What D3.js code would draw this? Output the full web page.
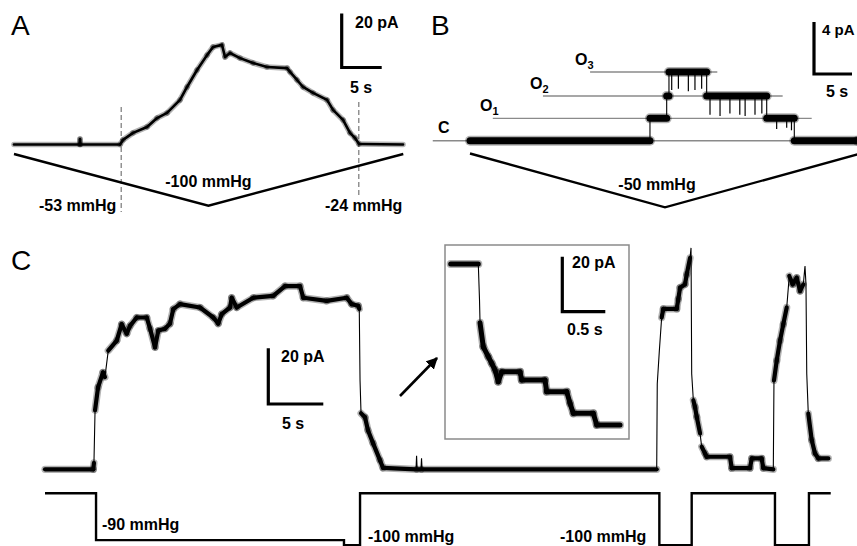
<!DOCTYPE html>
<html>
<head>
<meta charset="utf-8">
<script src="https://cdn.jsdelivr.net/npm/d3@7"></script>
<style>
  body { margin: 0; background: #fff; }
  text { font-family: "Liberation Sans", Arial, sans-serif; }
</style>
</head>
<body>
<svg id="figure" width="857" height="546"></svg>
<script>
////////////////////////////////////////////////////////////////////////////////
//////////////////////////////////////////////////////////////////////// Data
////////////////////////////////////////////////////////////////////////////////

// Panel A: current (pA) vs time (s), pressure ramp (mmHg)
const traceATime    = [0, 8.2, 8.25, 8.3, 13.25, 13.63, 14.88, 16.63, 17.88, 19.13, 20.75, 21.63, 22.88, 24.13, 24.88, 26.0, 26.38, 27.0, 28.25, 29.88, 31.63, 34.13, 34.5, 35.38, 36.13, 37.38, 39.13, 39.88, 41.13, 42.0, 42.63, 43.13, 48.63];
const traceACurrent = [0, 0, 2.0, 0, 0, 1.7, 4.3, 6.5, 9.8, 11.7, 16.5, 21.3, 27.6, 33.1, 36.1, 36.9, 32.4, 33.9, 32.0, 30.2, 28.7, 28.3, 26.9, 23.9, 21.3, 19.1, 16.5, 12.8, 9.1, 4.3, 2.4, 0.2, 0];
const rampATime     = [0, 24.3, 48.66];
const rampAPressure = [0, -100, 0];
const thresholdsATime  = [13.4, 43.1];
const thresholdsALabel = ["-53 mmHg", "-24 mmHg"];

// Panel B: single channel steps, closed (C) and open levels O1..O3
const levelNames  = ["C", "O", "O", "O"];
const levelSubs   = ["", "1", "2", "3"];
const levelValues = [0, 1.72, 3.44, 5.28];
const levelLineStart = [-4.9, 3.0, 9.6, 15.8];
const levelLineEnd   = [51, 44.96, 41.14, 32.54];
const stepBTime  = [0, 23.68, 25.88, 26.18, 31.14, 39.04, 42.67, 51];
const stepBLevel = [0, 1.72, 3.44, 5.28, 3.44, 1.72, 0, 0];
// brief partial closures inside the open dwells
const spikeBTime  = [26.54, 27.42, 28.73, 29.6, 30.48, 31.58, 32.9, 34.2, 35.5, 36.2, 37.5, 38.4, 40.35, 41.67, 42.3];
const spikeBDepth = [3.9, 4.0, 3.8, 3.9, 4.0, 2.0, 1.9, 2.1, 2.0, 1.9, 2.0, 2.1, 0.9, 1.0, 0.8];
const rampBTime     = [0, 25.66, 51.45];
const rampBPressure = [0, -50, 0];

// Panel C: main trace
const traceCTime    = [0, 4.39, 4.45, 4.55, 4.82, 5.27, 5.45, 5.75, 6.52, 6.97, 7.43, 7.73, 8.34, 9.25, 9.55, 10.0, 10.3, 10.91, 11.36, 11.66, 12.27, 14.09, 15.3, 15.75, 16.06, 16.82, 16.97, 17.43, 18.94, 20.75, 21.82, 23.18, 23.48, 25.61, 27.43, 27.88, 28.48, 28.57, 28.64, 28.73, 29.09, 29.36, 29.82, 30.45, 30.73, 33.73, 33.78, 33.83, 34.18, 34.23, 34.28, 55.61, 55.66, 55.85, 56.06, 56.21, 57.43, 57.57, 57.73, 58.18, 58.34, 58.64, 58.73, 58.79, 58.94, 59.09, 59.25, 59.55, 59.7, 60.0, 60.15, 62.27, 62.43, 64.09, 64.25, 65.15, 65.3, 66.21, 66.27, 66.52, 66.82, 67.12, 67.43, 67.66, 67.97, 68.34, 68.64, 68.94, 69.09, 69.18, 69.25, 69.39, 69.7, 70.0, 70.3, 71.21];
const traceCCurrent = [0, 0, 2.3, 21.2, 29.4, 34.8, 33.1, 42.6, 46.2, 52.1, 48.7, 51.5, 54.5, 54.5, 50.5, 43.8, 49.8, 50.5, 52.3, 57.5, 59.3, 58.1, 54.5, 52.3, 55.7, 58.1, 61.6, 58.1, 61.6, 62.3, 65.8, 65.8, 61.6, 60.5, 61.6, 59.3, 58.7, 57.6, 31.9, 20.1, 18.7, 14.0, 9.4, 3.3, 0.5, 0, 4.9, 0, 0, 4.0, 0, 0, 30.7, 42.6, 54.5, 57.6, 57.6, 61.1, 65.2, 66.4, 70.0, 75.9, 79.5, 34.3, 24.8, 22.4, 18.8, 12.9, 8.1, 5.7, 4.5, 4.5, 0.4, 0.4, 3.9, 3.9, 0.4, 0, 31.9, 39.0, 46.2, 52.1, 58.1, 69.4, 66.4, 68.8, 64.0, 66.4, 73.0, 66.4, 34.3, 20.0, 10.5, 5.7, 3.9, 3.9];
const stepCTime     = [0, 4.64, 27.18, 28.64, 55.85, 58.79, 66.36, 69.45, 71.43];
const stepCPressure = [0, -90, -100, 0, -100, 0, -100, 0, 0];
const stepCLabels   = [["-90 mmHg", 102, 530], ["-100 mmHg", 368, 542], ["-100 mmHg", 560, 542]];

// Panel C inset: expanded view of the current decay
const insetTime    = [0, 0.321, 0.335, 0.341, 0.379, 0.437, 0.477, 0.515, 0.553, 0.593, 0.806, 0.826, 1.097, 1.116, 1.349, 1.387, 1.426, 1.658, 1.698, 1.969];
const insetCurrent = [58.9, 58.9, 45.8, 37.5, 28.8, 25.2, 22.8, 20.4, 16.1, 19.7, 19.7, 16.7, 16.7, 12.5, 12.5, 8.3, 4.6, 4.6, 0.4, 0.4];

////////////////////////////////////////////////////////////////////////////////
/////////////////////////////////////////////////////////////////////// Helpers
////////////////////////////////////////////////////////////////////////////////

const svg = d3.select("#figure");

// noisy trace: near-vertical transitions drawn thin, dwell parts as a band
function drawTrace(g, times, values, x, y, band) {
  const pts = times.map((t, i) => [x(t), y(values[i])]);
  g.append("path")
     .attr("d", d3.line()(pts))
     .attr("fill", "none")
     .attr("stroke", "#000")
     .attr("stroke-width", 1.1);
  const flat = d3.pairs(pts).filter(function(p) {
    const dx = Math.abs(p[1][0] - p[0][0]);
    const dy = Math.abs(p[1][1] - p[0][1]);
    return !(dy > 8 * dx && dy > 10);
  });
  // soft halo for the noise, then solid core
  [[band + 3, 0.3], [band, 1]].forEach(function(s) {
    g.selectAll(null)
     .data(flat)
     .join("line")
       .attr("x1", d => d[0][0]).attr("y1", d => d[0][1])
       .attr("x2", d => d[1][0]).attr("y2", d => d[1][1])
       .attr("stroke", "#000")
       .attr("stroke-opacity", s[1])
       .attr("stroke-width", s[0])
       .attr("stroke-linecap", "round");
  });
}

function stepPoints(times, values) {
  const t = [], v = [];
  times.forEach(function(d, i) {
    if (i > 0) { t.push(d); v.push(values[i - 1]); }
    t.push(d); v.push(values[i]);
  });
  return [t, v];
}

function scaleBar(g, x0, y0, w, h) {
  g.append("path")
     .attr("d", `M${x0},${y0 - h}V${y0}H${x0 + w}`)
     .attr("fill", "none")
     .attr("stroke", "#000")
     .attr("stroke-width", 3.2);
}

function label(g, x, y, txt, size, anchor, weight) {
  return g.append("text")
           .attr("x", x)
           .attr("y", y)
           .attr("text-anchor", anchor || "start")
           .style("font-size", size + "px")
           .style("font-weight", weight || "bold")
           .text(txt);
}

////////////////////////////////////////////////////////////////////////////////
/////////////////////////////////////////////////////////////////////// Panel A
////////////////////////////////////////////////////////////////////////////////

const gA = svg.append("g");
const xA = d3.scaleLinear().domain([0, 10]).range([14, 94]);
const yA = d3.scaleLinear().domain([0, 20]).range([144.5, 90.5]);
const pA = d3.scaleLinear().domain([0, -100]).range([154, 205.7]);

label(gA, 11, 35, "A", 28, "start", "normal");

thresholdsATime.forEach(function(t, i) {
  gA.append("line")
      .attr("x1", xA(t)).attr("x2", xA(t))
      .attr("y1", i == 0 ? 107 : 102)
      .attr("y2", i == 0 ? 212 : 197)
      .attr("stroke", "#777")
      .attr("stroke-width", 1.2)
      .attr("stroke-dasharray", "5,3");
});

drawTrace(gA, traceATime, traceACurrent, xA, yA, 2.6);

gA.append("path")
    .attr("d", d3.line().x((d, i) => xA(rampATime[i])).y(d => pA(d))(rampAPressure))
    .attr("fill", "none")
    .attr("stroke", "#000")
    .attr("stroke-width", 2.4);

label(gA, xA(rampATime[1]), 187, "-100 mmHg", 16, "middle");
label(gA, 39, 211, thresholdsALabel[0], 16);
label(gA, 325, 211, thresholdsALabel[1], 16);

scaleBar(gA, 341.7, 67.5, xA(5) - xA(0), yA(0) - yA(20));
label(gA, 355, 28, "20 pA", 16);
label(gA, 350, 93, "5 s", 16);

////////////////////////////////////////////////////////////////////////////////
/////////////////////////////////////////////////////////////////////// Panel B
////////////////////////////////////////////////////////////////////////////////

const gB = svg.append("g");
const xB = d3.scaleLinear().domain([0, 5]).range([470, 508]);
const yB = d3.scaleLinear().domain([0, 4]).range([140.7, 88.7]);
const pB = d3.scaleLinear().domain([0, -50]).range([153.5, 207.3]);

label(gB, 431, 35, "B", 28, "start", "normal");

// level reference lines
levelValues.forEach(function(v, i) {
  gB.append("line")
      .attr("x1", xB(levelLineStart[i])).attr("x2", xB(levelLineEnd[i]))
      .attr("y1", yB(v)).attr("y2", yB(v))
      .attr("stroke", "#8a8a8a")
      .attr("stroke-width", 1.4);
});
const labelX = [438, 480, 530, 575];
levelValues.forEach(function(v, i) {
  const t = label(gB, labelX[i], yB(v) - (i == 0 ? 8 : 7), levelNames[i], 16);
  if (levelSubs[i]) {
    t.append("tspan")
       .attr("dy", 4)
       .style("font-size", "11px")
       .text(levelSubs[i]);
  }
});

const stepB = stepPoints(stepBTime, stepBLevel);
drawTrace(gB, stepB[0], stepB[1], xB, yB, 7);

// closures: thin lines from the current open level down to the spike depth
const levelAt = d3.scaleThreshold().domain(stepBTime.slice(1)).range(stepBLevel);
gB.selectAll(".spike")
  .data(spikeBTime)
  .join("line")
    .attr("class", "spike")
    .attr("x1", d => xB(d)).attr("x2", d => xB(d))
    .attr("y1", d => yB(levelAt(d)))
    .attr("y2", (d, i) => yB(spikeBDepth[i]))
    .attr("stroke", "#000")
    .attr("stroke-width", 1.2);

gB.append("path")
    .attr("d", d3.line().x((d, i) => xB(rampBTime[i])).y(d => pB(d))(rampBPressure))
    .attr("fill", "none")
    .attr("stroke", "#000")
    .attr("stroke-width", 2.4);
label(gB, xB(rampBTime[1]) - 8, 190, "-50 mmHg", 16, "middle");

scaleBar(gB, 814, 74, xB(5) - xB(0), yB(0) - yB(4));
label(gB, 822, 35, "4 pA", 15);
label(gB, 826, 97, "5 s", 16);

////////////////////////////////////////////////////////////////////////////////
/////////////////////////////////////////////////////////////////////// Panel C
////////////////////////////////////////////////////////////////////////////////

const gC = svg.append("g");
const xC = d3.scaleLinear().domain([0, 10]).range([45, 155]);
const yC = d3.scaleLinear().domain([0, 20]).range([469.3, 413.6]);
const pC = d3.scaleLinear().domain([0, -100]).range([493.3, 545.3]);

label(gC, 11, 270, "C", 28, "start", "normal");

drawTrace(gC, traceCTime, traceCCurrent, xC, yC, 4.2);

const stepC = stepPoints(stepCTime, stepCPressure);
gC.append("path")
    .attr("d", d3.line().x((d, i) => xC(stepC[0][i])).y(d => pC(d))(stepC[1]))
    .attr("fill", "none")
    .attr("stroke", "#000")
    .attr("stroke-width", 2.4);
stepCLabels.forEach(function(d) {
  label(gC, d[1], d[2], d[0], 16);
});

scaleBar(gC, 268.3, 404, xC(5) - xC(0), yC(0) - yC(20));
label(gC, 281, 362, "20 pA", 16);
label(gC, 282, 429, "5 s", 16);

// arrow towards the inset
svg.append("defs").append("marker")
     .attr("id", "head")
     .attr("viewBox", "0 0 10 10")
     .attr("refX", 9).attr("refY", 5)
     .attr("markerWidth", 4.5).attr("markerHeight", 4.5)
     .attr("orient", "auto")
   .append("path")
     .attr("d", "M0,0L10,5L0,10Z")
     .attr("fill", "#000");
gC.append("line")
    .attr("x1", 400).attr("y1", 396)
    .attr("x2", 437).attr("y2", 358)
    .attr("stroke", "#000")
    .attr("stroke-width", 2.6)
    .attr("marker-end", "url(#head)");

// inset
const gI = svg.append("g");
const xI = d3.scaleLinear().domain([0, 0.5]).range([450.7, 493.7]);
const yI = d3.scaleLinear().domain([0, 20]).range([426, 371]);

gI.append("rect")
    .attr("x", 445).attr("y", 245)
    .attr("width", 184).attr("height", 194)
    .attr("fill", "none")
    .attr("stroke", "#8a8a8a")
    .attr("stroke-width", 1.5);

drawTrace(gI, insetTime, insetCurrent, xI, yI, 5);

scaleBar(gI, 562.3, 311.7, xI(0.5) - xI(0), yI(0) - yI(20));
label(gI, 572, 268, "20 pA", 16);
label(gI, 567, 335, "0.5 s", 16);
</script>
</body>
</html>
